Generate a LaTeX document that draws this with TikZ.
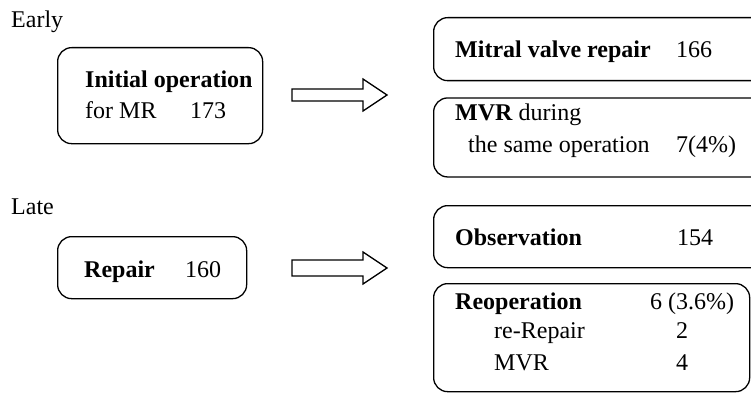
\documentclass[tikz,border=0pt]{standalone}
\usepackage{fontspec}
\setmainfont{Liberation Serif}
\usetikzlibrary{positioning}

\begin{document}
\begin{tikzpicture}[x=1pt,y=1pt]
\tikzstyle{box}=[draw,rectangle,rounded corners=14pt,line width=1.3pt,inner sep=0pt,anchor=north west]
\tikzstyle{txt}=[anchor=base west,inner sep=0pt,font=\fontsize{24}{28}\selectfont]
\tikzstyle{bigarrow}=[draw,line width=1.3pt,line join=miter]
\useasboundingbox (0,0) rectangle (751,-393);

% early
\node[txt] (early) at (11,-28) {Early};
\node[box,minimum width=205pt,minimum height=96pt] (ib) at (57,-47) {};
\node[txt] (ibt) at (85,-88) {\textbf{Initial operation}};
\node[txt] (ibm) at (85,-118) {for MR};
\node[txt] (ibn) at (190,-118) {173};

\node[box,minimum width=337pt,minimum height=63pt] (mb) at (433,-17) {};
\node[txt] (mbt) at (455,-58) {\textbf{Mitral valve repair}};
\node[txt] (mbn) at (676,-58) {166};

\node[box,minimum width=337pt,minimum height=79pt,below=16pt of mb] (sb) {};
\node[txt] (sbt) at (455,-120) {\textbf{MVR} during};
\node[txt] (sbm) at (468,-152) {the same operation};
\node[txt] (sbn) at (676,-152) {7(4\%)};

% late
\node[txt] (late) at (11,-214) {Late};
\node[box,minimum width=189pt,minimum height=62pt] (rb) at (57,-236) {};
\node[txt] (rbt) at (84,-277) {\textbf{Repair}};
\node[txt] (rbn) at (185,-277) {160};

\node[box,minimum width=337pt,minimum height=62pt] (ob) at (433,-205) {};
\node[txt] (obt) at (455,-245) {\textbf{Observation}};
\node[txt] (obn) at (677,-245) {154};

\node[box,minimum width=316pt,minimum height=108pt] (rob) at (433,-283) {};
\node[txt] (robt) at (455,-309) {\textbf{Reoperation}};
\node[txt] (robn) at (650,-309) {6 (3.6\%)};
\node[txt] (rrt) at (494,-338) {re-Repair};
\node[txt] (rrn) at (676,-338) {2};
\node[txt] (mvt) at (494,-370) {MVR};
\node[txt] (mvn) at (676,-370) {4};

% block arrows
\coordinate (ea) at (292,-95);
\coordinate (la) at (292,-268);
\draw[bigarrow] (ea) ++(0,6) -- ++(71,0) -- ++(0,10) -- ++(24,-16) -- ++(-24,-16) -- ++(0,10) -- ++(-71,0) -- cycle;
\draw[bigarrow] (la) ++(0,8) -- ++(71,0) -- ++(0,8) -- ++(24,-16) -- ++(-24,-16) -- ++(0,8) -- ++(-71,0) -- cycle;
\end{tikzpicture}
\end{document}
